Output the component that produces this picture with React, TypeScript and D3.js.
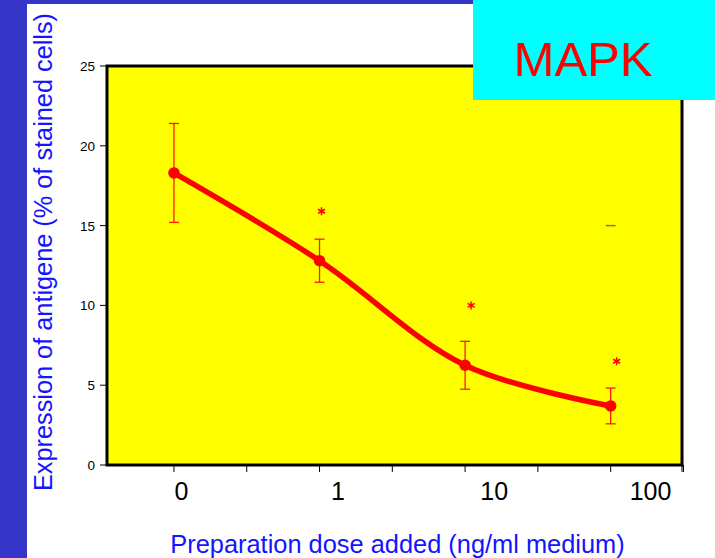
import React from "react";
import * as d3 from "d3";

const categories: string[] = ["0", "1", "10", "100"];
const means: number[] = [18.3, 12.8, 6.25, 3.7];
const errors: number[] = [3.1, 1.35, 1.5, 1.12];
const stars: (number | null)[] = [null, 15.9, 10.0, 6.5];
const yTicks: number[] = [0, 5, 10, 15, 20, 25];
const markerValue = 15;

const W = 715;
const H = 558;
const left = 107;
const right = 682;
const top = 66;
const bottom = 465;
const FONT = "'Liberation Sans', Arial, Helvetica, sans-serif";

export default function App() {
  const x = d3.scaleLinear().domain([-0.46, 3.49]).range([left, right]);
  const y = d3.scaleLinear().domain([0, 25]).range([bottom, top]);
  const labelX = d3.scaleLinear().domain([0, 3]).range([181.5, 650.5]);

  const pts: [number, number][] = means.map((m, i) => [x(i), y(m)]);
  const line = d3.line().curve(d3.curveCatmullRom.alpha(0.5))(pts) || "";

  const starPath = d3.symbol().type(d3.symbolAsterisk).size(45)() || "";

  const xTicks = d3.range(0, 4, 0.5);

  return (
    <div style={{ position: "fixed", left: 0, top: 0, width: W, height: H, background: "#fff" }}>
      <svg width={W} height={H} style={{ display: "block" }}>
        <rect x={0} y={0} width={W} height={H} fill="#fff" />
        {/* slide decorations */}
        <rect x={0} y={0} width={27} height={H} fill="#3434C6" />
        <rect x={0} y={0} width={475} height={4} fill="#3434C6" />

        {/* plot background */}
        <rect x={left} y={top} width={right - left} height={bottom - top} fill="#FFFF00" stroke="#000" strokeWidth={3} />

        {/* y axis ticks */}
        {yTicks.map((t) => (
          <g key={t}>
            <line x1={left - 7} x2={left} y1={y(t)} y2={y(t)} stroke="#000" strokeWidth={1} />
            <text x={left - 12} y={y(t) + 5} textAnchor="end" fontFamily={FONT} fontSize={13.5} fill="#000">
              {t}
            </text>
          </g>
        ))}

        {/* x axis ticks */}
        {xTicks.map((t) => (
          <line key={t} x1={x(t)} x2={x(t)} y1={bottom} y2={bottom + 7} stroke="#000" strokeWidth={1} />
        ))}
        <line x1={right} x2={right} y1={bottom} y2={bottom + 7} stroke="#000" strokeWidth={1} />

        {/* x labels */}
        {categories.map((c, i) => (
          <text key={c} x={labelX(i)} y={500} textAnchor="middle" fontFamily={FONT} fontSize={25} fill="#000">
            {c}
          </text>
        ))}

        {/* error bars */}
        {means.map((m, i) => (
          <g key={"e" + i} stroke="#FF1A00" strokeWidth={1.3}>
            <line x1={x(i)} x2={x(i)} y1={y(m + errors[i])} y2={y(m - errors[i])} />
            <line x1={x(i) - 5} x2={x(i) + 5} y1={y(m + errors[i])} y2={y(m + errors[i])} />
            <line x1={x(i) - 5} x2={x(i) + 5} y1={y(m - errors[i])} y2={y(m - errors[i])} />
          </g>
        ))}

        {/* line */}
        <path d={line} fill="none" stroke="#FF0000" strokeWidth={5.5} strokeLinejoin="round" />
        {pts.map((p, i) => (
          <circle key={"c" + i} cx={p[0]} cy={p[1]} r={5.8} fill="#FF0000" />
        ))}

        {/* significance stars */}
        {stars.map((s, i) =>
          s === null ? null : (
            <path
              key={"s" + i}
              d={starPath}
              transform={`translate(${x(i) + (i === 1 ? 2 : 6)},${y(s)})`}
              fill="none"
              stroke="#FF0000"
              strokeWidth={1.5}
            />
          )
        )}

        {/* small gray marker */}
        <line x1={x(3) - 5} x2={x(3) + 5} y1={y(markerValue)} y2={y(markerValue)} stroke="#777" strokeWidth={1.5} />

        {/* axis titles */}
        <text
          transform={`translate(52,252) rotate(-90)`}
          textAnchor="middle"
          fontFamily={FONT}
          fontSize={25.3}
          fill="#1414FF"
        >
          Expression of antigene (% of stained cells)
        </text>
        <text x={397.5} y={553} textAnchor="middle" fontFamily={FONT} fontSize={25.4} fill="#1414FF">
          Preparation dose added (ng/ml medium)
        </text>

        {/* title box */}
        <rect x={473} y={0} width={W - 473} height={100} fill="#00FFFF" />
        <text x={583} y={76} textAnchor="middle" fontFamily={FONT} fontSize={49} fill="#FF0000">
          MAPK
        </text>
      </svg>
    </div>
  );
}
